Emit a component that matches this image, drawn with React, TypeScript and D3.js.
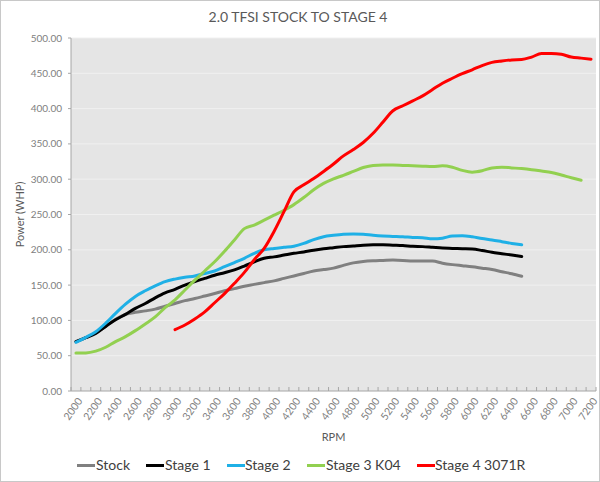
import React from "react";
import * as d3 from "d3";

const rpm: number[] = d3.range(2000, 7201, 100);
const xTickLabels: string[] = d3.range(2000, 7201, 200).map(String);
const yTicks: number[] = [0, 50, 100, 150, 200, 250, 300, 350, 400, 450, 500];

const stock: (number | null)[] = [70, 75.5, 82.5, 91.5, 101.5, 108.5, 111.5, 113.5, 116, 120, 124, 128, 131, 134.5, 138, 142, 145, 148.5, 151, 153.5, 156, 159.5, 163, 166.5, 170, 172, 174, 178, 181.5, 183.5, 184.5, 185, 185.5, 185, 184, 184, 184, 181, 179, 177.5, 176, 174, 172, 169, 166, 162.5];
const stage1: (number | null)[] = [70, 75.5, 81.5, 91.5, 101, 108.5, 117, 124, 132, 139, 144, 150, 155, 159.5, 164, 167.5, 171.5, 177, 183, 188, 190, 192.5, 195, 197, 199.5, 201.5, 203, 204.5, 205.5, 206.5, 207, 207, 206.5, 206, 205, 204.5, 203.5, 202.5, 202, 201.5, 201, 199, 196.5, 194.5, 192.5, 190.5];
const stage2: (number | null)[] = [69, 76, 84, 96, 110, 123, 134, 142, 149, 155, 158.5, 161, 163, 166.5, 170, 176, 182, 188, 195, 200, 202, 203.5, 205, 209, 214.5, 218.5, 220.5, 222, 222.5, 222, 220.5, 219.5, 219, 218.5, 217.5, 217, 215.5, 216.5, 219.5, 220, 218.5, 216, 214, 211.5, 209, 207];
const stage3: (number | null)[] = [54, 54, 56.5, 62, 70, 77, 85.5, 95, 105, 118, 129, 143, 157, 170, 183, 198, 214, 230, 235, 242, 249, 256, 264, 274, 285, 294, 300.5, 305.5, 311, 316.5, 319.5, 320, 320, 319.5, 319, 318.5, 318, 319, 317, 312.5, 310, 312, 316, 317, 316, 315, 313.5, 311.5, 309.5, 306, 302, 298.5];
const stage4: (number | null)[] = [null, null, null, null, null, null, null, null, null, null, 87, 93.5, 102, 112, 125, 138, 152.5, 168, 186, 202, 226, 254, 282, 292, 301, 311, 321.5, 333, 342, 352, 365, 381, 397, 404, 411, 418, 427, 436, 443, 449.5, 455, 461, 465.5, 467.5, 469, 469.5, 473, 478, 478, 477, 473, 471.5, 470];

const seriesNames: string[] = ["Stock", "Stage 1", "Stage 2", "Stage 3 K04", "Stage 4 3071R"];
const seriesColors: string[] = ["#808080", "#000000", "#1fb0e6", "#92d050", "#ff0000"];
const seriesData = [stock, stage1, stage2, stage3, stage4];

const W = 600;
const H = 482;
const M = { left: 71, right: 4, top: 38, bottom: 91 };
const FONT = "Lato, 'Open Sans', sans-serif";

export default function App() {
  const x = d3
    .scaleBand<number>()
    .domain(rpm)
    .range([M.left, W - M.right])
    .paddingInner(0)
    .paddingOuter(0);
  const y = d3.scaleLinear().domain([0, 500]).range([H - M.bottom, M.top]);
  const cx = (r: number) => (x(r) as number) + x.bandwidth() / 2;

  const line = d3
    .line<{ r: number; v: number | null }>()
    .defined((d) => d.v !== null && d.v !== undefined)
    .x((d) => cx(d.r))
    .y((d) => y(d.v as number))
    .curve(d3.curveMonotoneX);

  const plotL = M.left;
  const plotR = W - M.right;
  const plotT = M.top;
  const plotB = H - M.bottom;

  const legendItems = [
    { x: 77, tx: 96 },
    { x: 146, tx: 165 },
    { x: 227, tx: 245 },
    { x: 307, tx: 326 },
    { x: 417, tx: 435 },
  ];

  return (
    <div style={{ position: "fixed", left: 0, top: 0 }}>
      <svg width={W} height={H} style={{ display: "block", background: "#fff" }}>
        <rect x={0.5} y={0.5} width={W - 1} height={H - 1} fill="#fff" stroke="#c8c8c8" />
        <text x={298} y={22} textAnchor="middle" fontFamily={FONT} fontSize={14} fill="#595959">
          2.0 TFSI STOCK TO STAGE 4
        </text>
        <rect x={plotL} y={plotT} width={plotR - plotL} height={plotB - plotT} fill="#e5e5e5" />
        {yTicks.map((t) => (
          <g key={t}>
            {t > 0 && (
              <line x1={plotL} x2={plotR} y1={y(t)} y2={y(t)} stroke="#f0f0f0" strokeWidth={1} />
            )}
            <line x1={plotL - 3} x2={plotL} y1={y(t)} y2={y(t)} stroke="#a6a6a6" />
            <text
              x={plotL - 9}
              y={y(t)}
              dy="0.35em"
              textAnchor="end"
              fontFamily={FONT}
              fontSize={10}
              fill="#808080"
            >
              {t.toFixed(2)}
            </text>
          </g>
        ))}
        <line x1={plotL} x2={plotL} y1={plotT} y2={plotB} stroke="#a6a6a6" />
        <line x1={plotL} x2={plotR} y1={plotB} y2={plotB} stroke="#a6a6a6" />
        {rpm.concat([7300]).map((r, i) => {
          const xx = plotL + i * x.bandwidth();
          return <line key={"t" + r} x1={xx} x2={xx} y1={plotB - 4} y2={plotB} stroke="#a6a6a6" />;
        })}
        {xTickLabels.map((lab) => {
          const r = +lab;
          const px = cx(r) + 4;
          const py = plotB + 8;
          return (
            <text
              key={lab}
              transform={`translate(${px},${py}) rotate(-55)`}
              textAnchor="end"
              dy="0.35em"
              fontFamily={FONT}
              fontSize={10.5}
              fill="#808080"
            >
              {lab}
            </text>
          );
        })}
        <text x={(plotL + plotR) / 2} y={441} textAnchor="middle" fontFamily={FONT} fontSize={11} fill="#595959">
          RPM
        </text>
        <text
          transform={`translate(24,${(plotT + plotB) / 2}) rotate(-90)`}
          textAnchor="middle"
          fontFamily={FONT}
          fontSize={11}
          fill="#595959"
        >
          Power (WHP)
        </text>
        {seriesData.map((s, i) => (
          <path
            key={seriesNames[i]}
            d={line(s.map((v, j) => ({ r: rpm[j], v }))) || ""}
            fill="none"
            stroke={seriesColors[i]}
            strokeWidth={3}
            strokeLinejoin="round"
            strokeLinecap="round"
          />
        ))}
        {seriesNames.map((n, i) => (
          <g key={"lg" + n}>
            <line
              x1={legendItems[i].x}
              x2={legendItems[i].x + 18}
              y1={465.5}
              y2={465.5}
              stroke={seriesColors[i]}
              strokeWidth={3}
            />
            <text x={legendItems[i].tx} y={465.5} dy="0.35em" fontFamily={FONT} fontSize={14} fill="#404040">
              {n}
            </text>
          </g>
        ))}
      </svg>
    </div>
  );
}
